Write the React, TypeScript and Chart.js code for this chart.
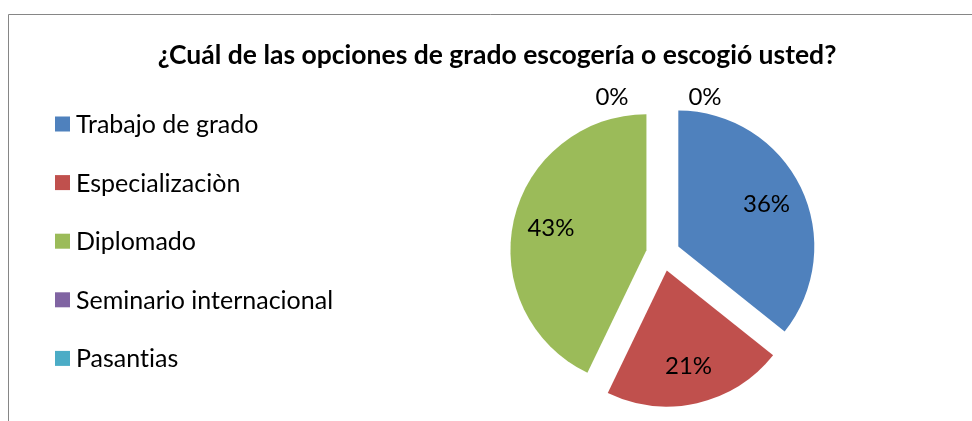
import React, { useEffect, useRef } from "react";
import { Chart, registerables, ArcElement } from "chart.js";

Chart.register(...registerables);

const TITLE = "¿Cuál de las opciones de grado escogería o escogió usted?";
const categories = [
  "Trabajo de grado",
  "Especializaciòn",
  "Diplomado",
  "Seminario internacional",
  "Pasantias",
];
const values = [5, 3, 6, 0, 0];
const colors = ["#4F81BD", "#C0504D", "#9BBB59", "#8064A2", "#4BACC6"];

const EXPLODE = 17;
const RADIUS = 136;
const FONT = "Lato, 'Open Sans', sans-serif";

function noLig(ctx: any) {
  try {
    ctx.textRendering = "optimizeSpeed";
  } catch (e) {}
}

export default function App() {
  const ref = useRef<HTMLCanvasElement>(null);

  useEffect(() => {
    const canvas = ref.current!;
    const overlay = {
      id: "overlay",
      beforeDraw(chart: any) {
        const ctx = chart.ctx;
        ctx.save();
        noLig(ctx);
        ctx.fillStyle = "#ffffff";
        ctx.fillRect(0, 0, chart.width, chart.height);
        ctx.strokeStyle = "#868686";
        ctx.lineWidth = 1;
        ctx.beginPath();
        ctx.moveTo(8.5, chart.height);
        ctx.lineTo(8.5, 14.5);
        ctx.lineTo(chart.width, 14.5);
        ctx.stroke();
        ctx.fillStyle = "#000";
        ctx.font = `bold 26.5px ${FONT}`;
        ctx.textAlign = "center";
        ctx.textBaseline = "middle";
        ctx.fillText(TITLE, 497, 55);
        ctx.font = `25px ${FONT}`;
        ctx.textAlign = "left";
        categories.forEach((c, i) => {
          const y = 124 + i * 58.6;
          ctx.fillStyle = colors[i];
          ctx.fillRect(55, y - 7.5, 15, 15);
          ctx.fillStyle = "#000";
          ctx.fillText(c, 76, y + 1);
        });
        ctx.restore();
      },
      beforeDatasetsDraw(chart: any) {
        const meta = chart.getDatasetMeta(0);
        meta.data.forEach((el: any) => {
          if (el.__patched) return;
          el.__patched = true;
          const base = ArcElement.prototype.draw;
          el.draw = function (ctx: CanvasRenderingContext2D) {
            const mid = (this.startAngle + this.endAngle) / 2;
            ctx.save();
            ctx.translate(Math.cos(mid) * EXPLODE, Math.sin(mid) * EXPLODE);
            base.call(this, ctx);
            ctx.restore();
          };
        });
      },
      afterDatasetsDraw(chart: any) {
        const ctx = chart.ctx;
        const meta = chart.getDatasetMeta(0);
        const total = values.reduce((a, b) => a + b, 0);
        let zeroIdx = 0;
        ctx.save();
        noLig(ctx);
        ctx.font = `24px ${FONT}`;
        ctx.fillStyle = "#000";
        ctx.textAlign = "center";
        ctx.textBaseline = "middle";
        meta.data.forEach((el: any, i: number) => {
          const pct = Math.round((values[i] / total) * 100) + "%";
          const mid = (el.startAngle + el.endAngle) / 2;
          let x: number;
          let y: number;
          if (values[i] === 0) {
            x = el.x + (zeroIdx === 0 ? -51 : 42);
            y = el.y - el.outerRadius - 21;
            zeroIdx++;
          } else {
            const d = EXPLODE + el.outerRadius * 0.72;
            x = el.x + Math.cos(mid) * d;
            y = el.y + Math.sin(mid) * d;
          }
          ctx.fillText(pct, x, y);
        });
        ctx.restore();
      },
    };

    const chart = new Chart(canvas, {
      type: "pie",
      data: {
        labels: categories,
        datasets: [
          {
            data: values,
            backgroundColor: colors,
            borderWidth: 0,
            radius: RADIUS,
          } as any,
        ],
      },
      options: {
        responsive: false,
        animation: false,
        layout: { padding: { left: 374, right: 20, top: 87, bottom: 0 } },
        plugins: {
          legend: { display: false },
          title: { display: false },
          tooltip: { enabled: false },
        },
      },
      plugins: [overlay],
    });
    return () => chart.destroy();
  }, []);

  return (
    <div style={{ position: "fixed", left: 0, top: 0, width: 972, height: 421 }}>
      <canvas ref={ref} width={972} height={421} style={{ display: "block" }} />
    </div>
  );
}
